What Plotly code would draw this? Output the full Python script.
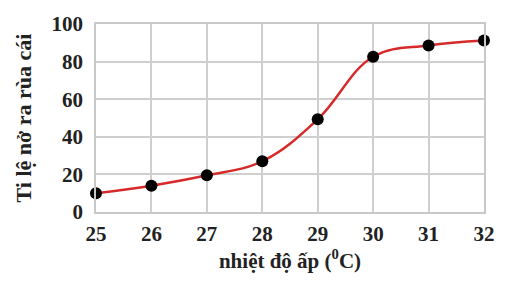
import plotly.graph_objects as go

temps = [25, 26, 27, 28, 29, 30, 31, 32]
ratio = [10, 14, 19.5, 27, 49.3, 82.6, 88.6, 91.2]
x_ticks = [25, 26, 27, 28, 29, 30, 31, 32]
y_ticks = [0, 20, 40, 60, 80, 100]

FONT = "Liberation Serif"

fig = go.Figure()
fig.add_trace(go.Scatter(
    x=temps, y=ratio, mode="lines+markers",
    line=dict(color="#d62a2a", width=2.5, shape="spline", smoothing=1.1),
    marker=dict(color="black", size=12),
    cliponaxis=False, showlegend=False,
))

axis_common = dict(
    showgrid=True, gridcolor="#cfcfcf", gridwidth=1.5,
    showline=True, linecolor="#c8c8c8", linewidth=1.5, mirror=True,
    zeroline=False, ticks="",
    tickfont=dict(family=FONT, size=21, color="#222", weight="bold"),
)

fig.update_xaxes(
    range=[25, 32], tickvals=x_ticks, ticktext=[str(v) for v in x_ticks],
    ticklabelstandoff=2,
    title=dict(text="nhiệt độ ấp (<sup>0</sup>C)", standoff=8,
               font=dict(family=FONT, size=21, color="#222", weight="bold")),
    **axis_common,
)
fig.update_yaxes(
    range=[0, 100], tickvals=y_ticks, ticktext=[str(v) for v in y_ticks],
    ticklabelstandoff=7,
    title=dict(text="Ti lệ nở ra rùa cái", standoff=14,
               font=dict(family=FONT, size=22, color="#222", weight="bold")),
    **axis_common,
)

fig.update_layout(
    width=514, height=281,
    margin=dict(l=96, r=30, t=23, b=66),
    paper_bgcolor="white", plot_bgcolor="white",
)

fig.write_html("out.html")
